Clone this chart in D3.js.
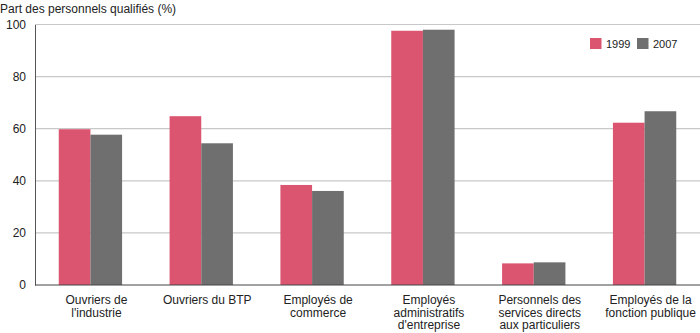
<!DOCTYPE html>
<html><head><meta charset="utf-8">
<script src="https://cdn.jsdelivr.net/npm/d3@7"></script>
<style>body{margin:0;background:#fff}svg{display:block;font-family:"Liberation Sans",Arial,sans-serif}</style>
</head><body><svg id="c" width="700" height="333"></svg>
<script>
const categories = [
  ["Ouvriers de", "l'industrie"],
  ["Ouvriers du BTP"],
  ["Employés de", "commerce"],
  ["Employés", "administratifs", "d'entreprise"],
  ["Personnels des", "services directs", "aux particuliers"],
  ["Employés de la", "fonction publique"]
];
const series = ["1999", "2007"];
const values1999 = [59.8, 64.8, 38.4, 97.6, 8.3, 62.3];
const values2007 = [57.7, 54.4, 36.1, 98.0, 8.7, 66.7];
const yTicks = [0, 20, 40, 60, 80, 100];
const colors = ["#db5570", "#6f6f6f"];

const svg = d3.select("#c");
const mLeft = 35, mRight = 700, mTop = 24.5, mBottom = 285;
const x = d3.scaleBand().domain(d3.range(categories.length)).range([mLeft, mRight]).paddingInner(0).paddingOuter(0);
const xi = d3.scaleBand().domain(series).range([0, x.bandwidth()]).paddingInner(0).paddingOuter(0.75);
const y = d3.scaleLinear().domain([0, 100]).range([mBottom, mTop]);

// gridlines
svg.append("g").selectAll("line").data(yTicks.filter(d => d > 0)).join("line")
  .attr("x1", mLeft).attr("x2", mRight).attr("y1", d => y(d)).attr("y2", d => y(d))
  .attr("stroke", "#c8c8c8").attr("stroke-width", 1.2);

// y axis
const yAxis = d3.axisLeft(y).tickValues(yTicks).tickSize(0).tickPadding(9);
const ya = svg.append("g").attr("transform", `translate(${mLeft},0)`).call(yAxis);
ya.select(".domain").attr("stroke", "#555");
ya.selectAll("text").attr("font-size", 12).attr("fill", "#222").attr("font-family", "Liberation Sans, Arial, sans-serif");

// bars
const data = categories.map((c, i) => ({i, vals: [values1999[i], values2007[i]]}));
const g = svg.append("g").selectAll("g").data(data).join("g")
  .attr("transform", d => `translate(${x(d.i)},0)`);
g.selectAll("rect").data(d => d.vals.map((v, k) => ({s: series[k], v, k}))).join("rect")
  .attr("x", d => xi(d.s)).attr("width", xi.bandwidth())
  .attr("y", d => y(d.v)).attr("height", d => y(0) - y(d.v))
  .attr("fill", d => colors[d.k]);

// baseline
svg.append("line").attr("x1", mLeft).attr("x2", mRight).attr("y1", y(0)).attr("y2", y(0))
  .attr("stroke", "#444").attr("stroke-width", 1.2);

// category labels
const lab = svg.append("g").selectAll("text").data(categories).join("text")
  .attr("text-anchor", "middle").attr("font-size", 12).attr("fill", "#222")
  .attr("transform", (d, i) => `translate(${x(i) + x.bandwidth() / 2 + 6},304)`);
lab.selectAll("tspan").data(d => d).join("tspan")
  .attr("x", 0).attr("dy", (d, j) => j === 0 ? 0 : 12.6).text(d => d);

// title
svg.append("text").attr("x", 0).attr("y", 13).attr("font-size", 12).attr("fill", "#222")
  .text("Part des personnels qualifiés (%)");

// legend
const leg = svg.append("g").selectAll("g").data(series).join("g")
  .attr("transform", (d, i) => `translate(${590 + i * 47},38)`);
leg.append("rect").attr("width", 11.5).attr("height", 11).attr("fill", (d, i) => colors[i]);
leg.append("text").attr("x", 16).attr("y", 10).attr("font-size", 11).attr("fill", "#222").text(d => d);
</script></body></html>
